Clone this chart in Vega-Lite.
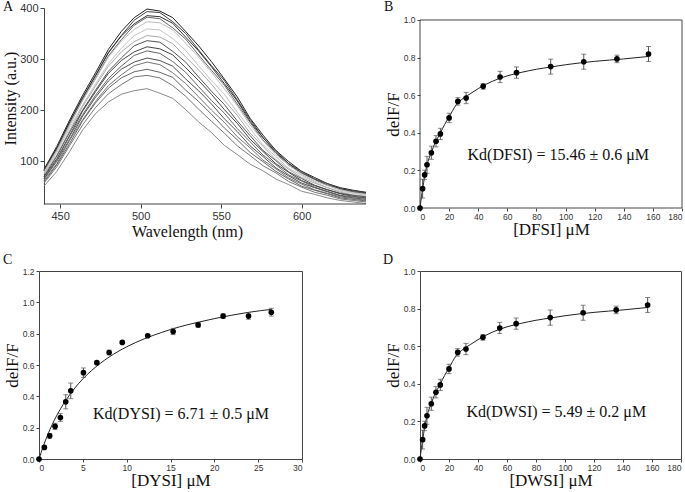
{
  "$schema": "https://vega.github.io/schema/vega-lite/v6.json",
  "background": "white",
  "padding": {"left": 2, "top": 0, "right": 0, "bottom": 0},
  "config": {
    "view": {"stroke": null},
    "axis": {"grid": false, "labelOverlap": false, "labelFont": "Liberation Sans", "titleFont": "Liberation Serif", "titleFontWeight": "normal", "titleColor": "#111", "labelColor": "#333", "domainColor": "#444", "tickColor": "#444"},
    "axisY": {"format": ".1f"},
    "title": {"font": "Liberation Serif", "fontSize": 14, "fontWeight": "normal", "anchor": "start", "frame": "group", "color": "#111"}
  },
  "datasets": {
    "spec": [
      {"w":440,"s1":84,"s2":82,"s3":82,"s4":81,"s5":78,"s6":76,"s7":74,"s8":70,"s9":69,"s10":66,"s11":65,"s12":62,"s13":59,"s14":57,"s15":51},
      {"w":448,"s1":129,"s2":125,"s3":126,"s4":122,"s5":121,"s6":117,"s7":112,"s8":110,"s9":105,"s10":103,"s11":100,"s12":95,"s13":93,"s14":89,"s15":80},
      {"w":456,"s1":181,"s2":177,"s3":177,"s4":172,"s5":171,"s6":166,"s7":160,"s8":157,"s9":151,"s10":149,"s11":143,"s12":141,"s13":135,"s14":131,"s15":119},
      {"w":464,"s1":229,"s2":224,"s3":224,"s4":220,"s5":219,"s6":210,"s7":207,"s8":200,"s9":198,"s10":191,"s11":188,"s12":181,"s13":179,"s14":171,"s15":161},
      {"w":472,"s1":273,"s2":268,"s3":267,"s4":262,"s5":261,"s6":251,"s7":247,"s8":239,"s9":236,"s10":229,"s11":225,"s12":217,"s13":214,"s14":205,"s15":193},
      {"w":480,"s1":319,"s2":313,"s3":312,"s4":306,"s5":304,"s6":291,"s7":286,"s8":276,"s9":272,"s10":262,"s11":257,"s12":248,"s13":243,"s14":232,"s15":216},
      {"w":488,"s1":354,"s2":346,"s3":345,"s4":338,"s5":335,"s6":321,"s7":314,"s8":302,"s9":297,"s10":286,"s11":280,"s12":269,"s13":263,"s14":250,"s15":231},
      {"w":496,"s1":381,"s2":376,"s3":369,"s4":366,"s5":358,"s6":346,"s7":334,"s8":326,"s9":314,"s10":307,"s11":294,"s12":287,"s13":275,"s14":265,"s15":238},
      {"w":504,"s1":398,"s2":393,"s3":385,"s4":382,"s5":373,"s6":359,"s7":346,"s8":336,"s9":324,"s10":316,"s11":302,"s12":294,"s13":280,"s14":268,"s15":242},
      {"w":512,"s1":394,"s2":391,"s3":383,"s4":379,"s5":371,"s6":357,"s7":343,"s8":333,"s9":320,"s10":311,"s11":297,"s12":289,"s13":274,"s14":263,"s15":233},
      {"w":520,"s1":381,"s2":373,"s3":370,"s4":361,"s5":357,"s6":340,"s7":330,"s8":315,"s9":308,"s10":295,"s11":286,"s12":273,"s13":264,"s14":248,"s15":223},
      {"w":528,"s1":354,"s2":350,"s3":343,"s4":339,"s5":331,"s6":317,"s7":304,"s8":294,"s9":283,"s10":274,"s11":261,"s12":252,"s13":239,"s14":227,"s15":201},
      {"w":536,"s1":326,"s2":318,"s3":316,"s4":308,"s5":304,"s6":287,"s7":279,"s8":265,"s9":258,"s10":246,"s11":238,"s12":226,"s13":217,"s14":202,"s15":177},
      {"w":544,"s1":295,"s2":287,"s3":285,"s4":278,"s5":274,"s6":258,"s7":251,"s8":237,"s9":231,"s10":219,"s11":212,"s12":200,"s13":192,"s14":178,"s15":156},
      {"w":552,"s1":261,"s2":258,"s3":252,"s4":249,"s5":242,"s6":231,"s7":219,"s8":211,"s9":201,"s10":194,"s11":183,"s12":176,"s13":165,"s14":155,"s15":131},
      {"w":560,"s1":226,"s2":220,"s3":218,"s4":212,"s5":209,"s6":196,"s7":190,"s8":179,"s9":174,"s10":164,"s11":158,"s12":148,"s13":142,"s14":130,"s15":113},
      {"w":568,"s1":184,"s2":182,"s3":178,"s4":176,"s5":171,"s6":164,"s7":155,"s8":150,"s9":143,"s10":138,"s11":130,"s12":126,"s13":117,"s14":111,"s15":94},
      {"w":576,"s1":151,"s2":146,"s3":146,"s4":141,"s5":140,"s6":132,"s7":129,"s8":121,"s9":119,"s10":112,"s11":109,"s12":102,"s13":99,"s14":91,"s15":81},
      {"w":584,"s1":121,"s2":121,"s3":117,"s4":116,"s5":113,"s6":109,"s7":103,"s8":101,"s9":95,"s10":93,"s11":87,"s12":85,"s13":80,"s14":77,"s15":65},
      {"w":592,"s1":99,"s2":95,"s3":95,"s4":92,"s5":92,"s6":86,"s7":84,"s8":79,"s9":78,"s10":73,"s11":71,"s12":67,"s13":65,"s14":60,"s15":54},
      {"w":600,"s1":80,"s2":80,"s3":77,"s4":77,"s5":74,"s6":72,"s7":68,"s8":66,"s9":62,"s10":61,"s11":57,"s12":55,"s13":51,"s14":49,"s15":41},
      {"w":608,"s1":68,"s2":65,"s3":65,"s4":64,"s5":61,"s6":59,"s7":57,"s8":53,"s9":52,"s10":49,"s11":48,"s12":44,"s13":43,"s14":39,"s15":35},
      {"w":616,"s1":56,"s2":56,"s3":53,"s4":53,"s5":52,"s6":48,"s7":48,"s8":44,"s9":44,"s10":41,"s11":40,"s12":37,"s13":36,"s14":33,"s15":28},
      {"w":624,"s1":48,"s2":46,"s3":46,"s4":44,"s5":44,"s6":41,"s7":39,"s8":37,"s9":36,"s10":33,"s11":32,"s12":30,"s13":28,"s14":26,"s15":23},
      {"w":632,"s1":43,"s2":42,"s3":40,"s4":40,"s5":38,"s6":37,"s7":34,"s8":33,"s9":31,"s10":30,"s11":28,"s12":27,"s13":25,"s14":23,"s15":20},
      {"w":640,"s1":39,"s2":38,"s3":37,"s4":36,"s5":35,"s6":33,"s7":31,"s8":30,"s9":28,"s10":27,"s11":25,"s12":23,"s13":22,"s14":20,"s15":17}
    ],
    "bpts": [
      {"c":0,"v":0,"e":0},{"c":1.8,"v":0.103,"e":0.05},{"c":3.2,"v":0.176,"e":0.025},{"c":4.8,"v":0.23,"e":0.045},
      {"c":7.8,"v":0.294,"e":0.035},{"c":11,"v":0.355,"e":0.03},{"c":14,"v":0.394,"e":0.03},{"c":20,"v":0.479,"e":0.025},
      {"c":26,"v":0.567,"e":0.02},{"c":31.7,"v":0.585,"e":0.03},{"c":43.4,"v":0.647,"e":0.015},{"c":55,"v":0.697,"e":0.03},
      {"c":66.3,"v":0.72,"e":0.03},{"c":89.8,"v":0.752,"e":0.04},{"c":112.5,"v":0.778,"e":0.04},{"c":135.3,"v":0.793,"e":0.02},
      {"c":157,"v":0.819,"e":0.04}
    ],
    "bcurve": [
      {"c":0,"v":0},{"c":1,"v":0.06},{"c":2,"v":0.11},{"c":3,"v":0.16},{"c":4,"v":0.2},{"c":5,"v":0.235},{"c":6,"v":0.26},
      {"c":8,"v":0.3},{"c":10,"v":0.34},{"c":12,"v":0.37},{"c":14,"v":0.4},{"c":17,"v":0.445},{"c":20,"v":0.485},{"c":25,"v":0.55},
      {"c":30,"v":0.585},{"c":35,"v":0.61},{"c":40,"v":0.635},{"c":50,"v":0.675},{"c":60,"v":0.703},{"c":70,"v":0.722},
      {"c":80,"v":0.738},{"c":90,"v":0.75},{"c":100,"v":0.762},{"c":120,"v":0.78},{"c":140,"v":0.793},{"c":157,"v":0.806}
    ],
    "cpts": [
      {"c":0,"v":0,"e":0},{"c":0.61,"v":0.074,"e":0.01},{"c":1.22,"v":0.148,"e":0.015},{"c":1.83,"v":0.208,"e":0.02},
      {"c":2.44,"v":0.265,"e":0.025},{"c":3.05,"v":0.365,"e":0.045},{"c":3.62,"v":0.435,"e":0.05},{"c":5.07,"v":0.551,"e":0.03},
      {"c":6.6,"v":0.615,"e":0.01},{"c":8.0,"v":0.68,"e":0.015},{"c":9.5,"v":0.744,"e":0.008},{"c":12.4,"v":0.787,"e":0.008},
      {"c":15.3,"v":0.814,"e":0.02},{"c":18.15,"v":0.856,"e":0.015},{"c":21.0,"v":0.912,"e":0.015},{"c":23.9,"v":0.912,"e":0.02},
      {"c":26.5,"v":0.937,"e":0.025}
    ],
    "ccurve": [
      {"c":0,"v":0},{"c":0.5,"v":0.083},{"c":1,"v":0.155},{"c":1.5,"v":0.219},{"c":2,"v":0.275},{"c":3,"v":0.369},{"c":4,"v":0.447},
      {"c":5,"v":0.511},{"c":6,"v":0.565},{"c":7,"v":0.611},{"c":8,"v":0.651},{"c":10,"v":0.716},{"c":12,"v":0.767},{"c":14,"v":0.808},
      {"c":16,"v":0.843},{"c":18,"v":0.871},{"c":20,"v":0.896},{"c":22,"v":0.918},{"c":24,"v":0.937},{"c":26.5,"v":0.955}
    ]
  },
  "spacing": 15,
  "hconcat": [
    {
      "spacing": 13,
      "vconcat": [
        {
          "title": {"text": "A", "dx": -36, "offset": -12},
          "width": 327, "height": 196,
          "layer": [
            {
              "data": {"name": "spec"},
              "transform": [{"fold": ["s1","s2","s3","s4","s5","s6","s7","s8","s9","s10","s11","s12","s13","s14","s15"], "as": ["k","v"]}],
              "mark": {"type": "line", "strokeWidth": 1, "clip": true},
              "encoding": {
                "x": {"field": "w", "type": "quantitative", "title": "Wavelength (nm)", "scale": {"domain": [436.9, 640], "nice": false, "zero": false},
                      "axis": {"values": [450,500,550,600], "labelOverlap": false, "domain": false, "labelFontSize": 11, "titleFontSize": 16, "tickSize": 4, "titleX": 148, "titlePadding": 2}},
                "y": {"field": "v", "type": "quantitative", "title": "Intensity (a.u.)", "scale": {"domain": [16, 400], "nice": false, "zero": false},
                      "axis": {"values": [100,200,300,400], "format": "d", "labelOverlap": false, "offset": -5, "labelFontSize": 11, "titleFontSize": 16, "tickSize": 4, "titleY": 90, "titlePadding": 1}},
                "color": {"field": "k", "type": "nominal", "legend": null,
                          "scale": {"domain": ["s1","s2","s3","s4","s5","s6","s7","s8","s9","s10","s11","s12","s13","s14","s15"],
                                    "range": ["#222","#444","#333","#666","#bbb","#c4c4c4","#aaa","#555","#444","#666","#505050","#777","#666","#777","#8a8a8a"]}}
              }
            },
            {
              "data": {"name": "spec"},
              "transform": [{"filter": "datum.w == 440"}],
              "mark": {"type": "rule", "color": "#444", "strokeWidth": 1},
              "encoding": {"x": {"datum": 440}, "x2": {"datum": 640}, "y": {"datum": 16}}
            }
          ]
        },
        {
          "title": {"text": "C", "dx": -36, "offset": 0},
          "width": 263, "height": 188,
          "view": {"stroke": "#444", "strokeWidth": 1},
          "data": {"name": "cpts"},
          "encoding": {
            "x": {"field": "c", "type": "quantitative", "title": "[DYSI] μM", "scale": {"domain": [0, 30], "nice": false},
                  "axis": {"values": [0,5,10,15,20,25,30], "labelOverlap": false, "domain": false, "labelFontSize": 8.5, "titleFontSize": 17, "tickSize": 3, "labelPadding": 1, "titlePadding": 1}},
            "y": {"field": "v", "type": "quantitative", "title": "delF/F", "scale": {"domain": [0, 1.2], "nice": false},
                  "axis": {"values": [0,0.2,0.4,0.6,0.8,1.0,1.2], "labelOverlap": false, "format": ".1f", "domain": false, "labelFontSize": 8.5, "titleFontSize": 17, "tickSize": 3, "titlePadding": 1}}
          },
          "layer": [
            {"data": {"name": "ccurve"}, "mark": {"type": "line", "color": "#222", "strokeWidth": 1, "interpolate": "monotone"}},
            {"mark": {"type": "errorbar", "ticks": true, "color": "#555"}, "encoding": {"yError": {"field": "e"}}},
            {"mark": {"type": "circle", "size": 32, "color": "#000", "opacity": 1}},
            {"transform": [{"filter": "datum.c == 0"}],
             "mark": {"type": "text", "font": "Liberation Serif", "fontSize": 16, "color": "#111", "align": "center", "baseline": "middle"},
             "encoding": {"x": {"datum": 16.2}, "y": {"datum": 0.29}, "text": {"value": "Kd(DYSI) = 6.71 ± 0.5 μM"}}}
          ]
        }
      ]
    },
    {
      "spacing": 14,
      "vconcat": [
        {
          "title": {"text": "B", "dx": -36, "offset": -6},
          "width": 262, "height": 200,
          "data": {"name": "bpts"},
          "encoding": {
            "x": {"field": "c", "type": "quantitative", "title": "[DFSI] μM", "scale": {"domain": [0, 180], "nice": false},
                  "axis": {"values": [0,20,40,60,80,100,120,140,160,180], "labelOverlap": false, "domain": false, "labelFontSize": 8.5, "titleFontSize": 17, "tickSize": 3, "labelPadding": 1, "titlePadding": 1}},
            "y": {"field": "v", "type": "quantitative", "title": "delF/F", "scale": {"domain": [0, 1.0638], "nice": false},
                  "axis": {"values": [0,0.2,0.4,0.6,0.8,1.0], "labelOverlap": false, "format": ".1f", "domain": false, "labelFontSize": 8.5, "titleFontSize": 17, "tickSize": 3, "titlePadding": 1, "titleY": 106}}
          },
          "layer": [
            {"transform": [{"filter": "datum.c == 0"}], "mark": {"type": "rule", "color": "#444", "strokeWidth": 1},
             "encoding": {"x": {"datum": 0}, "x2": {"datum": 180}, "y": {"datum": 1}}},
            {"transform": [{"filter": "datum.c == 0"}], "mark": {"type": "rule", "color": "#444", "strokeWidth": 1},
             "encoding": {"x": {"datum": 0}, "x2": {"datum": 180}, "y": {"datum": 0}}},
            {"transform": [{"filter": "datum.c == 0"}], "mark": {"type": "rule", "color": "#444", "strokeWidth": 1},
             "encoding": {"x": {"datum": 0}, "y": {"datum": 0}, "y2": {"datum": 1}}},
            {"transform": [{"filter": "datum.c == 0"}], "mark": {"type": "rule", "color": "#444", "strokeWidth": 1},
             "encoding": {"x": {"datum": 180}, "y": {"datum": 0}, "y2": {"datum": 1}}},
            {"data": {"name": "bcurve"}, "mark": {"type": "line", "color": "#222", "strokeWidth": 1, "interpolate": "monotone"}},
            {"mark": {"type": "errorbar", "ticks": true, "color": "#555"}, "encoding": {"yError": {"field": "e"}}},
            {"mark": {"type": "circle", "size": 32, "color": "#000", "opacity": 1}},
            {"transform": [{"filter": "datum.c == 0"}],
             "mark": {"type": "text", "font": "Liberation Serif", "fontSize": 16, "color": "#111", "align": "center", "baseline": "middle"},
             "encoding": {"x": {"datum": 95}, "y": {"datum": 0.28}, "text": {"value": "Kd(DFSI) = 15.46 ± 0.6 μM"}}}
          ]
        },
        {
          "title": {"text": "D", "dx": -37, "offset": 0},
          "width": 261, "height": 188,
          "view": {"stroke": "#444", "strokeWidth": 1},
          "data": {"name": "bpts"},
          "encoding": {
            "x": {"field": "c", "type": "quantitative", "title": "[DWSI] μM", "scale": {"domain": [0, 180], "nice": false},
                  "axis": {"values": [0,20,40,60,80,100,120,140,160,180], "labelOverlap": false, "domain": false, "labelFontSize": 8.5, "titleFontSize": 17, "tickSize": 3, "labelPadding": 1, "titlePadding": 1}},
            "y": {"field": "v", "type": "quantitative", "title": "delF/F", "scale": {"domain": [0, 1], "nice": false},
                  "axis": {"values": [0,0.2,0.4,0.6,0.8,1.0], "labelOverlap": false, "format": ".1f", "domain": false, "labelFontSize": 8.5, "titleFontSize": 17, "tickSize": 3, "titlePadding": 1}}
          },
          "layer": [
            {"data": {"name": "bcurve"}, "mark": {"type": "line", "color": "#222", "strokeWidth": 1, "interpolate": "monotone"}},
            {"mark": {"type": "errorbar", "ticks": true, "color": "#555"}, "encoding": {"yError": {"field": "e"}}},
            {"mark": {"type": "circle", "size": 32, "color": "#000", "opacity": 1}},
            {"transform": [{"filter": "datum.c == 0"}],
             "mark": {"type": "text", "font": "Liberation Serif", "fontSize": 16, "color": "#111", "align": "center", "baseline": "middle"},
             "encoding": {"x": {"datum": 94}, "y": {"datum": 0.25}, "text": {"value": "Kd(DWSI) = 5.49 ± 0.2 μM"}}}
          ]
        }
      ]
    }
  ]
}
